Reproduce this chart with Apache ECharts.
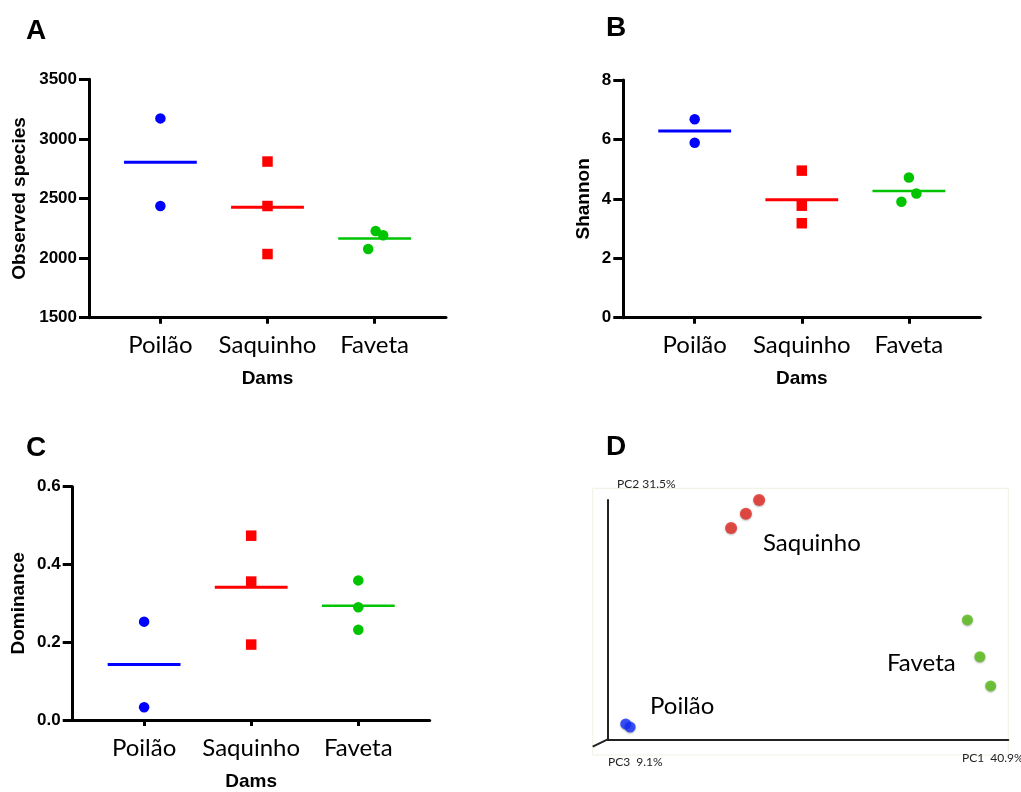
<!DOCTYPE html>
<html><head><meta charset="utf-8">
<script src="https://cdn.jsdelivr.net/npm/echarts@6/dist/echarts.min.js"></script>
<style>html,body{margin:0;padding:0;background:#fff}#c{width:1021px;height:792px}</style>
</head><body><div id="c"></div>
<script>
// ---- data ----
const groups = ['Poilão', 'Saquinho', 'Faveta'];
const yTicksA = [1500, 2000, 2500, 3000, 3500];
const yTicksB = [0, 2, 4, 6, 8];
const yTicksC = [0, 0.2, 0.4, 0.6];

// A: observed species
const obsPoilao = [3172, 2437];
const obsSaquinho = [2810, 2437, 2034];
const obsFaveta = [2227, 2191, 2076];
const obsFavetaJitter = [0.01, 0.08, -0.06];
// B: Shannon
const shanPoilao = [6.68, 5.89];
const shanSaquinho = [4.95, 3.77, 3.18];
const shanFaveta = [4.72, 4.18, 3.90];
const shanFavetaJitter = [0.0, 0.07, -0.07];
// C: Dominance
const domPoilao = [0.253, 0.033];
const domSaquinho = [0.474, 0.356, 0.194];
const domFaveta = [0.359, 0.290, 0.232];
// D: PCoA (PC1, PC2) positions in relative units
const pcPoilao = [[4.5, 6.4], [5.6, 5.1]];
const pcSaquinho = [[37.8, 100], [34.5, 94.3], [30.8, 88.3]];
const pcFaveta = [[89.8, 49.9], [92.9, 34.5], [95.6, 22.3]];
const pcAxisNames = ['PC1  40.9%', 'PC2 31.5%', 'PC3  9.1%'];

// ---- styling ----
const BLUE = '#0000ff', RED = '#ff0000', GREEN = '#00c400';
const colors = [BLUE, RED, GREEN];
const symbols = ['circle', 'rect', 'circle'];
const lineW = [3, 3, 2.4];
const HALF = 0.34;
const tickFont = {fontFamily: 'Liberation Sans', fontWeight: 'bold', fontSize: 17, color: '#000'};
const nameFont = {fontFamily: 'Liberation Sans', fontWeight: 'bold', fontSize: 19, color: '#000'};
const catFont = {fontFamily: 'Lato', fontSize: 24, color: '#000'};

const grids = [
  {left: 89, top: 79.3, width: 357, height: 238.4},
  {left: 623.3, top: 80, width: 357, height: 237.7},
  {left: 72.7, top: 486.7, width: 357, height: 239},
  {left: 607.7, top: 500, width: 400.6, height: 239.3}
];

function catX(i) {
  return {
    type: 'value', gridIndex: i, min: 1/3, max: 11/3,
    name: 'Dams', nameLocation: 'middle', nameGap: 52, nameTextStyle: nameFont,
    axisLine: {show: true, lineStyle: {color: '#000', width: 3}},
    axisTick: {show: true, customValues: [1, 2, 3], length: 6, lineStyle: {color: '#000', width: 3}},
    axisLabel: {customValues: [1, 2, 3], margin: 16, formatter: v => groups[Math.round(v) - 1], ...catFont},
    splitLine: {show: false}
  };
}
function valY(i, ticks, name, gap, fmt) {
  return {
    type: 'value', gridIndex: i, min: ticks[0], max: ticks[ticks.length - 1],
    interval: ticks[1] - ticks[0],
    name: name, nameLocation: 'middle', nameGap: gap, nameTextStyle: nameFont,
    axisLine: {show: true, lineStyle: {color: '#000', width: 3}},
    axisTick: {show: true, length: 10, lineStyle: {color: '#000', width: 3}},
    axisLabel: {margin: 12, formatter: fmt || (v => String(v)), ...tickFont},
    splitLine: {show: false}
  };
}
const mean = a => a.reduce((s, v) => s + v, 0) / a.length;

const series = [];
function addPanel(i, sets, jitters) {
  sets.forEach((vals, g) => {
    const jit = jitters[g] || vals.map(() => 0);
    series.push({
      type: 'scatter', xAxisIndex: i, yAxisIndex: i, symbol: symbols[g], symbolSize: 10.5,
      itemStyle: {color: colors[g], opacity: 1}, z: 3,
      data: vals.map((v, k) => [g + 1 + jit[k], v])
    });
    const m = mean(vals);
    series.push({
      type: 'line', xAxisIndex: i, yAxisIndex: i, symbol: 'none', z: 2,
      lineStyle: {color: colors[g], width: lineW[g]},
      data: [[g + 1 - HALF, m], [g + 1 + HALF, m]]
    });
  });
}
addPanel(0, [obsPoilao, obsSaquinho, obsFaveta], [null, null, obsFavetaJitter]);
addPanel(1, [shanPoilao, shanSaquinho, shanFaveta], [null, null, shanFavetaJitter]);
addPanel(2, [domPoilao, domSaquinho, domFaveta], [null, null, null]);

const pcColors = ['#1430ff', '#e42a22', '#57bd17'];
[pcPoilao, pcSaquinho, pcFaveta].forEach((pts, g) => {
  series.push({
    type: 'scatter', xAxisIndex: 3, yAxisIndex: 3, symbol: 'circle', symbolSize: g === 1 ? 12 : 11,
    clip: false, z: 3,
    itemStyle: {color: pcColors[g], shadowBlur: 2, shadowColor: 'rgba(0,0,0,0.35)', shadowOffsetY: 1},
    data: pts
  });
});

const xAxes = [catX(0), catX(1), catX(2), {
  type: 'value', gridIndex: 3, min: 0, max: 100,
  axisLine: {show: true, onZero: false, lineStyle: {color: '#222', width: 2}},
  axisTick: {show: false}, axisLabel: {show: false}, splitLine: {show: false}
}];
const yAxes = [
  valY(0, yTicksA, 'Observed species', 60),
  valY(1, yTicksB, 'Shannon', 30),
  valY(2, yTicksC, 'Dominance', 44, v => v.toFixed(1)),
  {type: 'value', gridIndex: 3, min: 0, max: 100,
   axisLine: {show: true, onZero: false, lineStyle: {color: '#222', width: 2}},
   axisTick: {show: false}, axisLabel: {show: false}, splitLine: {show: false}}
];

const panelFont = {fontFamily: 'Liberation Sans', fontWeight: 'bold', fontSize: 28, fill: '#000'};
const smallFont = {fontFamily: 'Lato', fontSize: 12, fill: '#222'};
const grpFont = {fontFamily: 'Lato', fontSize: 24, fill: '#000'};
const graphic = [
  {type: 'text', left: 26, top: 17, style: {text: 'A', ...panelFont}},
  {type: 'text', left: 606, top: 14, style: {text: 'B', ...panelFont}},
  {type: 'text', left: 26, top: 434, style: {text: 'C', ...panelFont}},
  {type: 'text', left: 606, top: 433, style: {text: 'D', ...panelFont}},
  {type: 'rect', shape: {x: 592.7, y: 488.3, width: 415.6, height: 266.7}, style: {fill: 'none', stroke: '#f1f1e4', lineWidth: 1}, z: 0},
  {type: 'line', shape: {x1: 607.7, y1: 739.3, x2: 592.7, y2: 746.7}, style: {stroke: '#222', lineWidth: 2}},
  {type: 'text', x: 617, y: 484, style: {text: pcAxisNames[1], ...smallFont, verticalAlign: 'middle'}},
  {type: 'text', x: 608, y: 762, style: {text: pcAxisNames[2], ...smallFont, verticalAlign: 'middle'}},
  {type: 'text', x: 962, y: 758, style: {text: pcAxisNames[0], ...smallFont, verticalAlign: 'middle'}},
  {type: 'text', x: 763, y: 543, style: {text: groups[1], ...grpFont, verticalAlign: 'middle'}},
  {type: 'text', x: 887, y: 663, style: {text: groups[2], ...grpFont, verticalAlign: 'middle'}},
  {type: 'text', x: 650, y: 706, style: {text: groups[0], ...grpFont, verticalAlign: 'middle'}}
];

const chart = echarts.init(document.getElementById('c'), null, {renderer: 'canvas'});
chart.setOption({
  animation: false,
  backgroundColor: '#fff',
  grid: grids,
  xAxis: xAxes,
  yAxis: yAxes,
  series: series,
  graphic: graphic
});
</script></body></html>
